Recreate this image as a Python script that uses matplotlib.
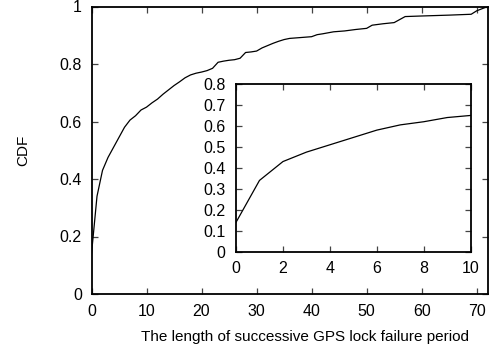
import matplotlib
matplotlib.use('Agg')
from matplotlib import pyplot as plt

# CDF of successive GPS lock failure lengths
period = [0, 1, 2, 3, 4, 5, 6, 7, 8, 9, 10, 11, 12, 13, 14, 15, 16, 17, 18, 19,
          20, 21, 22, 23, 24, 25, 26, 27, 28, 29, 30, 31, 32, 33, 34, 35, 36, 38,
          40, 41, 42, 44, 46, 48, 50, 51, 53, 55, 57, 60, 65, 69, 70, 72]
cdf = [0.14, 0.34, 0.43, 0.475, 0.51, 0.545, 0.58, 0.605, 0.62, 0.64, 0.65,
       0.665, 0.678, 0.695, 0.71, 0.725, 0.738, 0.752, 0.762, 0.768, 0.772,
       0.777, 0.785, 0.806, 0.81, 0.813, 0.815, 0.82, 0.84, 0.842, 0.845,
       0.856, 0.864, 0.872, 0.879, 0.885, 0.889, 0.892, 0.895, 0.902, 0.905,
       0.912, 0.915, 0.92, 0.924, 0.935, 0.94, 0.944, 0.965, 0.967, 0.970,
       0.973, 0.985, 1.0]

main_xticks = [0, 10, 20, 30, 40, 50, 60, 70]
main_yticks = [0, 0.2, 0.4, 0.6, 0.8, 1]
main_ylabels = ['0', '0.2', '0.4', '0.6', '0.8', '1']
inset_xticks = [0, 2, 4, 6, 8, 10]
inset_yticks = [0, 0.1, 0.2, 0.3, 0.4, 0.5, 0.6, 0.7, 0.8]
inset_ylabels = ['0', '0.1', '0.2', '0.3', '0.4', '0.5', '0.6', '0.7', '0.8']

FS = 11.5
plt.rcParams['font.family'] = ['Liberation Sans', 'DejaVu Sans']
plt.rcParams['font.size'] = FS

W, H = 498, 349
fig = plt.figure(figsize=(W / 100, H / 100), dpi=100)


def px_axes(left, top, right, bottom):
    return fig.add_axes([left / W, 1 - bottom / H, (right - left) / W, (bottom - top) / H])


def style(ax, xpad, ypad):
    for s in ax.spines.values():
        s.set_linewidth(1.3)
    ax.tick_params(direction='in', length=4.5, width=0.9, color='#444444',
                   top=True, right=True, labelsize=FS)
    ax.tick_params(axis='x', pad=xpad)
    ax.tick_params(axis='y', pad=ypad)


ax = px_axes(91.5, 6.5, 487.7, 294)
ax.plot(period, cdf, color='black', lw=0.9)
ax.set_xlim(0, 72)
ax.set_ylim(0, 1)
ax.set_xticks(main_xticks)
ax.set_yticks(main_yticks)
ax.set_yticklabels(main_ylabels)
style(ax, 7.5, 7)

fig.text(23 / W, 1 - 150 / H, 'CDF', rotation=90, ha='center', va='center', fontsize=11)
fig.text(305 / W, 1 - 341 / H, 'The length of successive GPS lock failure period',
         ha='center', va='baseline', fontsize=11)

ins = px_axes(236, 84, 470.7, 251.7)
ins.set_facecolor('white')
ins.plot(period, cdf, color='black', lw=0.9)
ins.set_xlim(0, 10)
ins.set_ylim(0, 0.8)
ins.set_xticks(inset_xticks)
ins.set_yticks(inset_yticks)
ins.set_yticklabels(inset_ylabels)
style(ins, 7, 7.5)

fig.savefig('out.png', dpi=100)
